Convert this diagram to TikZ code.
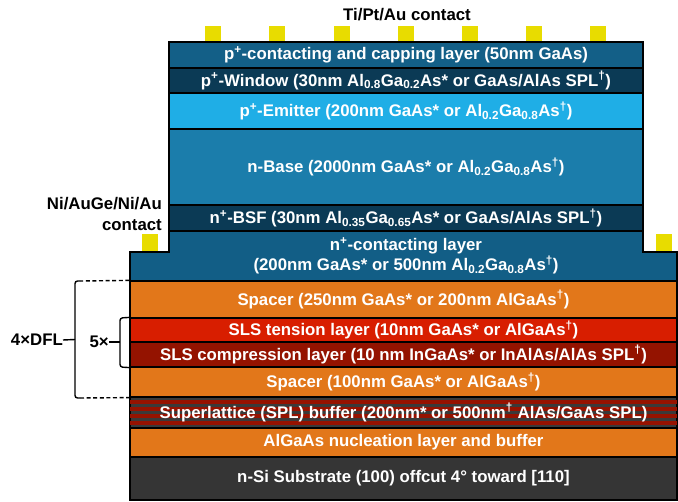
\documentclass[tikz,border=0pt]{standalone}
\usepackage{fontspec}
\setmainfont{Liberation Sans}
\definecolor{capc}{HTML}{135F87}
\definecolor{winc}{HTML}{0B3A55}
\definecolor{emic}{HTML}{1FAEE6}
\definecolor{basec}{HTML}{1B7DAB}
\definecolor{ncon}{HTML}{125E86}
\definecolor{orng}{HTML}{E2771A}
\definecolor{tens}{HTML}{D81E00}
\definecolor{comp}{HTML}{941300}
\definecolor{splg}{HTML}{3A3A3A}
\definecolor{splr}{HTML}{961200}
\definecolor{subc}{HTML}{353535}
\definecolor{contc}{HTML}{E8DC00}
\newcommand{\sps}[1]{\textsuperscript{#1}}
\newcommand{\sbs}[1]{\textsubscript{#1}}
\begin{document}
\begin{tikzpicture}[x=1pt,y=-1pt,
  layer/.style={draw=black, line width=1.2pt, inner sep=0pt, text=white,
    font=\fontsize{16.8}{20}\selectfont\bfseries, align=center},
  upper/.style={layer, minimum width=474pt},
  lower/.style={layer, minimum width=547pt},
  ltext/.style={text=white, inner sep=0pt, font=\fontsize{16.8}{20}\selectfont\bfseries, align=center},
  contact/.style={fill=contc, draw=none, minimum width=16pt, minimum height=16pt, inner sep=0pt},
  lbl/.style={text=black, inner sep=0pt, font=\fontsize{16.8}{21}\selectfont\bfseries},
  brk/.style={draw=black, line width=1.4pt}]
\useasboundingbox (0,0) rectangle (678,502);
% top contacts
\foreach \i in {0,...,6} {
  \node[contact, anchor=north west] (tc\i) at ({205+64.2*\i},26) {};
}
\node[lbl] (tpa) at (407,15) {Ti/Pt/Au contact};
% n contacts
\node[contact, anchor=north west, minimum height=18pt] (nc1) at (142,234) {};
\node[contact, anchor=north west, minimum height=18pt] (nc2) at (656,234) {};
\node[lbl, align=right, anchor=east] (nlbl) at (162,213.5) {Ni/AuGe/Ni/Au\\contact};
% n+ contacting layer (stepped shape)
\draw[fill=ncon, line width=1.2pt] (169,231) -- (643,231) -- (643,252) -- (677,252)
  -- (677,281) -- (130,281) -- (130,252) -- (169,252) -- cycle;
\node[ltext] (ncl) at (406,256) {n\sps{+}-contacting layer\\(200nm GaAs* or 500nm Al\sbs{0.2}Ga\sbs{0.8}As\sps{†})};
% upper layers
\node[upper, fill=capc, minimum height=26pt] (cap) at (406,55) {p\sps{+}-contacting and capping layer (50nm GaAs)};
\node[upper, fill=winc, minimum height=25pt] (win) at (406,80.5) {p\sps{+}-Window (30nm Al\sbs{0.8}Ga\sbs{0.2}As* or GaAs/AlAs SPL\sps{†})};
\node[upper, fill=emic, minimum height=36pt] (emi) at (406,111) {p\sps{+}-Emitter (200nm GaAs* or Al\sbs{0.2}Ga\sbs{0.8}As\sps{†})};
\node[upper, fill=basec, minimum height=76pt] (base) at (406,167) {n-Base (2000nm GaAs* or Al\sbs{0.2}Ga\sbs{0.8}As\sps{†})};
\node[upper, fill=winc, minimum height=26pt] (bsf) at (406,218) {n\sps{+}-BSF (30nm Al\sbs{0.35}Ga\sbs{0.65}As* or GaAs/AlAs SPL\sps{†})};
% lower layers
\node[lower, fill=orng, minimum height=37pt] (sp1) at (403.5,299.5) {Spacer (250nm GaAs* or 200nm AlGaAs\sps{†})};
\node[lower, fill=tens, minimum height=24pt] (ten) at (403.5,330) {SLS tension layer (10nm GaAs* or AlGaAs\sps{†})};
\node[lower, fill=comp, minimum height=25pt] (cmp) at (403.5,354.5) {SLS compression layer (10 nm InGaAs* or InAlAs/AlAs SPL\sps{†})};
\node[lower, fill=orng, minimum height=30pt] (sp2) at (403.5,382) {Spacer (100nm GaAs* or AlGaAs\sps{†})};
\node[lower, fill=splg, minimum height=31pt] (spl) at (403.5,412.5) {};
\foreach \k in {1,3,5,7} {
  \fill[splr] (130,{397+\k*31/9}) rectangle (677,{397+(\k+1)*31/9});
}
\draw[line width=1.2pt] (spl.north west) rectangle (spl.south east);
\node[ltext] (splt) at (spl.center) {Superlattice (SPL) buffer (200nm* or 500nm\sps{†} AlAs/GaAs SPL)};
\node[lower, fill=orng, minimum height=29pt] (nuc) at (403.5,442.5) {AlGaAs nucleation layer and buffer};
\node[lower, fill=subc, minimum height=43pt] (sub) at (403.5,478.5) {n-Si Substrate (100) offcut 4° toward [110]};
% brackets
\node[lbl, anchor=east] (dfl) at (63,340) {4×DFL};
\node[lbl, anchor=east] (five) at (109,342) {5×};
\draw[brk, dashed, dash pattern=on 4pt off 2.6pt] (sp1.north west) -- (80,281);
\draw[brk, rounded corners=2.5pt] (80,281) -- (75,281) -- (75,398) -- (80,398);
\draw[brk, dashed, dash pattern=on 4pt off 2.6pt] (80,398) -- (sp2.south west);
\draw[brk] (75,339.5) -- (dfl.east);
\draw[brk, rounded corners=2.5pt] (ten.north west) -- (120,318) -- (120,367) -- (cmp.south west);
\draw[brk] (120,342) -- (five.east);
\end{tikzpicture}
\end{document}
